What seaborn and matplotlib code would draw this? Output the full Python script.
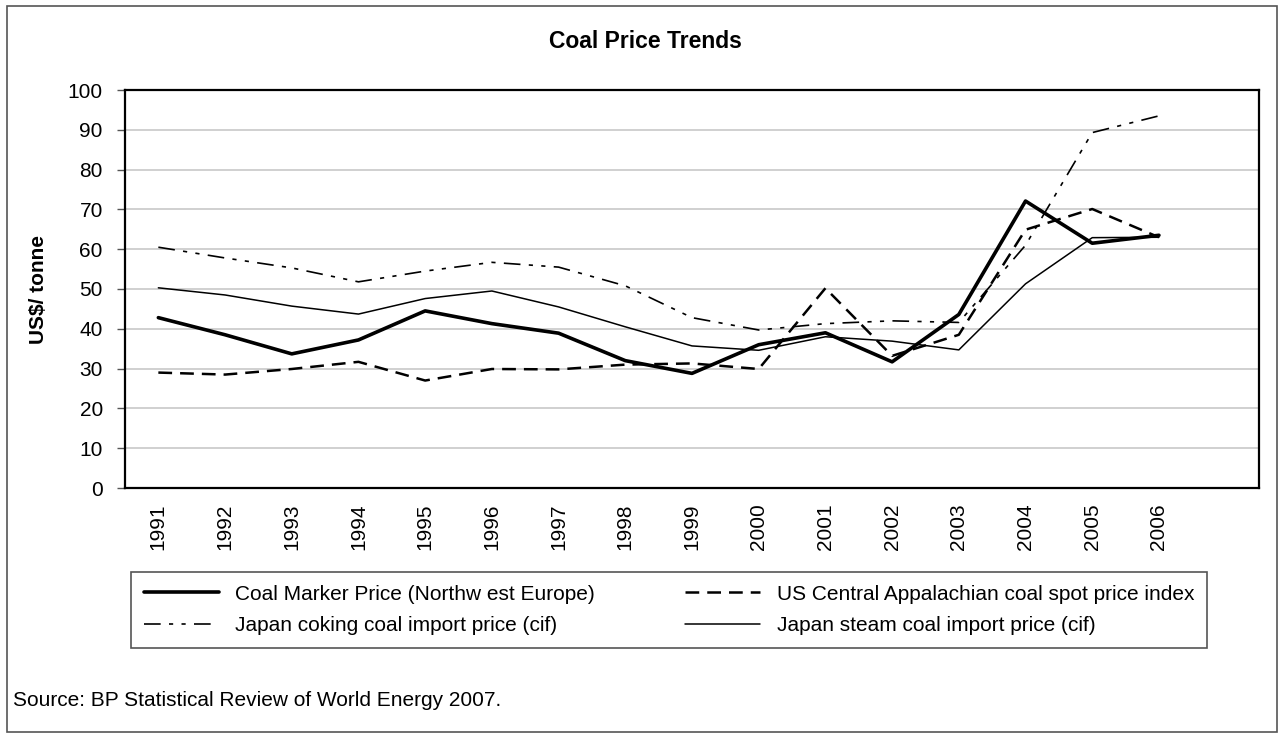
import pandas as pd
import seaborn as sns
import matplotlib.pyplot as plt
from matplotlib.patches import Rectangle

# Data (US$/tonne)
years = [str(y) for y in range(1991, 2007)]
nw_europe = [42.8, 38.5, 33.7, 37.2, 44.5, 41.3, 38.9, 32.0, 28.8, 36.0, 39.0, 31.7, 43.6, 72.1, 61.5, 63.5]
us_appalachian = [29.0, 28.5, 29.9, 31.7, 27.0, 29.9, 29.8, 31.0, 31.3, 29.9, 50.2, 33.2, 38.5, 64.9, 70.1, 63.0]
japan_coking = [60.5, 57.8, 55.3, 51.8, 54.5, 56.7, 55.5, 50.8, 42.8, 39.7, 41.3, 42.0, 41.6, 61.0, 89.3, 93.5]
japan_steam = [50.3, 48.5, 45.7, 43.7, 47.6, 49.5, 45.5, 40.5, 35.7, 34.6, 38.0, 36.9, 34.7, 51.3, 62.9, 63.0]

labels = ['Coal Marker Price (Northw est Europe)',
          'US Central Appalachian coal spot price index',
          'Japan coking coal import price (cif)',
          'Japan steam coal import price (cif)']

df = pd.DataFrame({'pos': range(len(years)), 'year': years,
                   labels[0]: nw_europe, labels[1]: us_appalachian,
                   labels[2]: japan_coking, labels[3]: japan_steam})

sns.set_style('white')
plt.rcParams['font.family'] = ['Liberation Sans', 'DejaVu Sans']
for k in ['text.color', 'axes.labelcolor', 'xtick.color', 'ytick.color']:
    plt.rcParams[k] = 'black'

fig = plt.figure(figsize=(12.79, 7.37), dpi=100)
W, H = 1279, 737
ax = fig.add_axes([125 / W, 1 - 488 / H, (1259 - 125) / W, (488 - 90) / H])

# outer chart border
fig.patches.append(Rectangle((7 / W, 1 - 732 / H), 1270 / W, 726 / H, transform=fig.transFigure,
                             fill=False, edgecolor='#555555', linewidth=1.2))

styles = {
    labels[0]: dict(lw=2.6, dashes=None),
    labels[1]: dict(lw=1.8, dashes=(5.5, 3.2)),
    labels[2]: dict(lw=1.2, dashes=(10, 5, 2.5, 5, 2.5, 5)),
    labels[3]: dict(lw=1.1, dashes=None),
}

handles = {}
for name in labels:
    st = styles[name]
    sns.lineplot(data=df, x='pos', y=name, ax=ax, color='black', linewidth=st['lw'])
    line = ax.get_lines()[-1]
    if st['dashes'] is not None:
        line.set_dashes(st['dashes'])
    handles[name] = line

ax.set_xlim(-0.5, 16.5)
ax.set_ylim(0, 100)
ax.set_yticks(range(0, 101, 10))
ax.set_xticks(range(len(years)))
ax.set_xticklabels(years, rotation=90)
ax.tick_params(axis='x', length=0, pad=11, labelsize=15)
ax.tick_params(axis='y', length=6, width=1, color='#555555', pad=10, labelsize=15, left=True)
ax.yaxis.grid(True, color='#c8c8c8', linewidth=1.2)
ax.set_axisbelow(True)
for sp in ax.spines.values():
    sp.set_visible(True)
    sp.set_color('black')
    sp.set_linewidth(1.6)
ax.set_xlabel('')
ax.set_ylabel('US$/ tonne', fontsize=15, fontweight='bold', labelpad=14)

fig.text(645 / W, 1 - 41 / H, 'Coal Price Trends', ha='center', va='center',
         fontsize=16.5, fontweight='bold')

order = [labels[0], labels[2], labels[1], labels[3]]
leg = fig.legend([handles[n] for n in order], order, ncol=2, loc='upper left',
                 bbox_to_anchor=(131 / W, 1 - 652 / H, (1207 - 131) / W, 80 / H),
                 mode='expand', borderaxespad=0, fontsize=15, handlelength=3.6,
                 handletextpad=0.8, labelspacing=0.6, borderpad=0.6,
                 frameon=True, fancybox=False, edgecolor='#555555', framealpha=1)
leg.get_frame().set_linewidth(1.2)

fig.text(13 / W, 1 - 701 / H, 'Source: BP Statistical Review of World Energy 2007.',
         ha='left', va='center', fontsize=15)

fig.savefig('out.png', dpi=100)
